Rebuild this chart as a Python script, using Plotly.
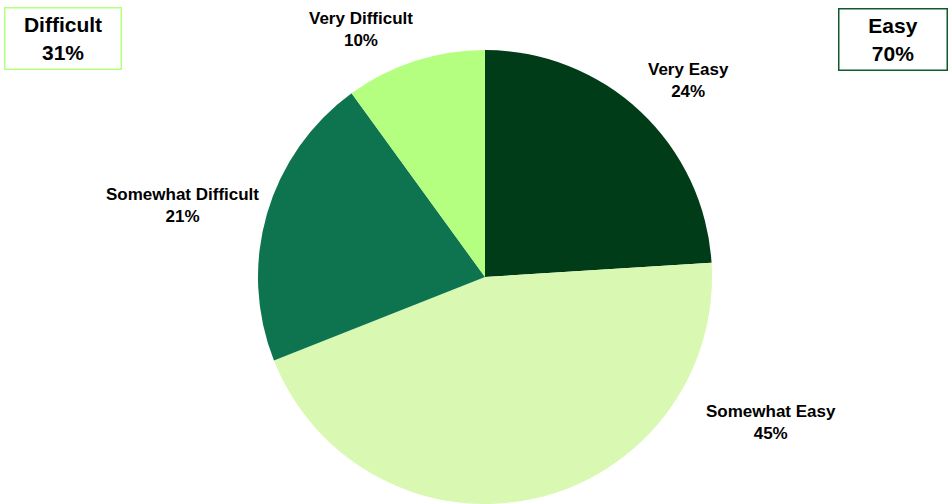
import plotly.graph_objects as go

categories = ["Very Easy", "Somewhat Easy", "Somewhat Difficult", "Very Difficult"]
values = [24, 45, 21, 10]
colors = ["#003c17", "#d9f8b1", "#0e7450", "#b4ff7f"]
group_names = ["Difficult", "Easy"]
group_values = [31, 70]

W, H = 948, 504
# label block centres (pixels)
label_pos = [(688, 80), (771, 422), (182, 205), (361, 29)]

fig = go.Figure(go.Pie(
    labels=categories, values=values, sort=False, direction="clockwise",
    rotation=0, marker=dict(colors=colors, line=dict(width=0)),
    textinfo="none", hoverinfo="label+percent", showlegend=False,
    domain=dict(x=[0.2116, 0.8116], y=[0.0, 0.9008]),
))

annotations = []
for name, v, (px, py) in zip(categories, values, label_pos):
    annotations.append(dict(
        x=px / W, y=1 - py / H, xref="paper", yref="paper",
        text=f"<b>{name}<br>{v}%</b>", showarrow=False,
        font=dict(family="Liberation Sans, Arial", size=17, color="#000000"),
        align="center", xanchor="center", yanchor="middle"))

box_specs = [((62.5, 39), "#b4ff7f", 115), ((892.5, 39.5), "#0e5a2e", 107)]
for name, v, ((px, py), bc, w) in zip(group_names, group_values, box_specs):
    annotations.append(dict(
        x=px / W, y=1 - py / H, xref="paper", yref="paper",
        text=f"<b>{name}<br>{v}%</b>", showarrow=False,
        font=dict(family="Liberation Sans, Arial", size=21, color="#000000"),
        align="center", xanchor="center", yanchor="middle",
        bordercolor=bc, borderwidth=1.5, borderpad=0, width=w, height=60,
        bgcolor="#ffffff"))

fig.update_layout(
    width=W, height=H, margin=dict(l=0, r=0, t=0, b=0),
    paper_bgcolor="#ffffff", plot_bgcolor="#ffffff",
    annotations=annotations,
)
fig.write_html("out.html", config={"displayModeBar": False},
               post_script="document.body.style.margin='0';document.body.style.overflow='hidden';")
